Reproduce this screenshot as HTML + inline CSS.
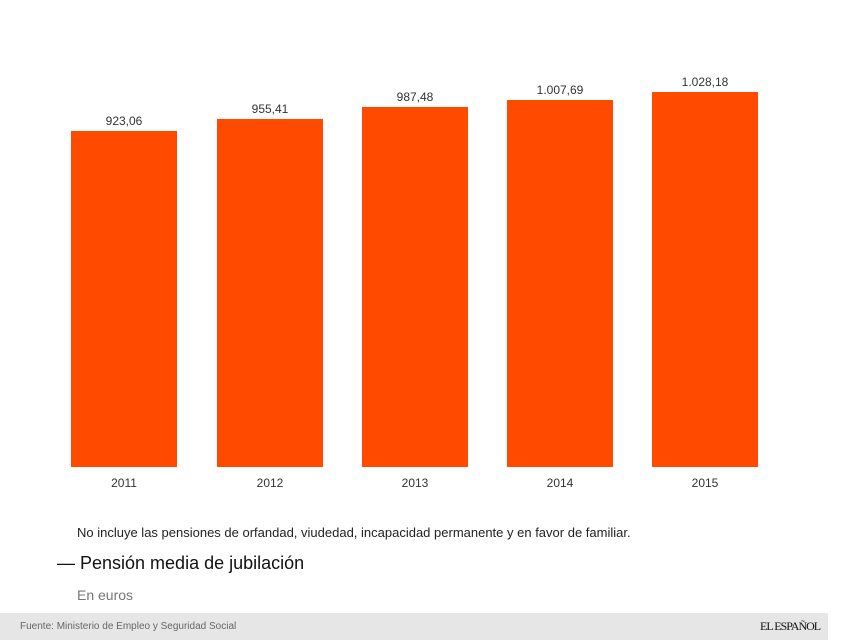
<!DOCTYPE html><html><head><style>
body{margin:0;width:854px;height:640px;background:#fff;position:relative;overflow:hidden;font-family:"Liberation Sans",sans-serif;color:#222}
.b{position:absolute;background:#ff4a00;width:106px;bottom:173px}
.v{position:absolute;width:106px;text-align:center;font-size:12px;color:#333}
.y{position:absolute;width:106px;text-align:center;font-size:12px;top:476px;color:#333}
</style></head><body>
<div class="b" style="left:71px;top:131px"></div><div class="v" style="left:71px;top:114px">923,06</div><div class="y" style="left:71px">2011</div>
<div class="b" style="left:217px;top:119px"></div><div class="v" style="left:217px;top:102px">955,41</div><div class="y" style="left:217px">2012</div>
<div class="b" style="left:362px;top:107px"></div><div class="v" style="left:362px;top:90px">987,48</div><div class="y" style="left:362px">2013</div>
<div class="b" style="left:507px;top:100px"></div><div class="v" style="left:507px;top:83px">1.007,69</div><div class="y" style="left:507px">2014</div>
<div class="b" style="left:652px;top:92px"></div><div class="v" style="left:652px;top:75px">1.028,18</div><div class="y" style="left:652px">2015</div>
<div style="position:absolute;left:77px;top:525px;font-size:13px;color:#222">No incluye las pensiones de orfandad, viudedad, incapacidad permanente y en favor de familiar.</div>
<div style="position:absolute;left:57px;top:553px;font-size:18px;color:#111">— Pensión media de jubilación</div>
<div style="position:absolute;left:77px;top:587px;font-size:14px;color:#777">En euros</div>
<div style="position:absolute;left:0;top:613px;width:828px;height:27px;background:#e6e6e6"></div>
<div style="position:absolute;left:20px;top:621px;font-size:10px;color:#666">Fuente: Ministerio de Empleo y Seguridad Social</div>
<div style="position:absolute;left:760px;top:619px;font-size:12px;font-family:'Liberation Serif',serif;color:#111;letter-spacing:-1px">EL ESPAÑOL</div>
</body></html>
